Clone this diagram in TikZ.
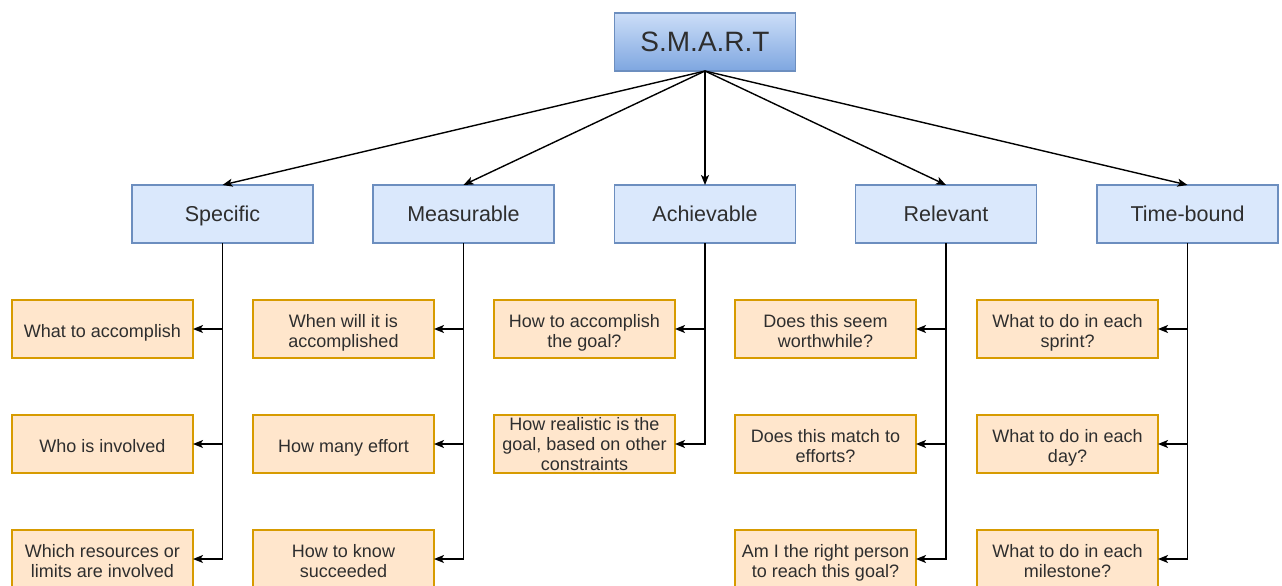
\documentclass[tikz,border=0pt]{standalone}
\usepackage{fontspec}
\setmainfont{Liberation Sans}
\usetikzlibrary{arrows.meta,shadings}
\definecolor{bluefill}{HTML}{DAE8FC}
\definecolor{bluedark}{HTML}{7EA6E0}
\definecolor{blueline}{HTML}{6C8EBF}
\definecolor{orfill}{HTML}{FFE6CC}
\definecolor{orline}{HTML}{D79B00}
\definecolor{txt}{HTML}{2E2E2E}
\newcommand{\qs}{\rule{0pt}{1.12em}}
\newcommand{\qe}{\rule[-0.22em]{0pt}{0.22em}}
\tikzset{
  vstrut/.style={execute at begin node={\rule[-0.22em]{0pt}{#1}}, execute at end node={\rule[-0.22em]{0pt}{#1}}},
  box/.style={draw, line width=1.2pt, minimum width=181pt, minimum height=58pt, inner sep=0pt, outer sep=0pt, align=center, text=txt},
  rootbox/.style={box, draw=blueline, top color=bluefill!85!bluedark, bottom color=bluedark, font=\fontsize{28}{32}\selectfont, vstrut=1.14em},
  catbox/.style={box, draw=blueline, fill=bluefill, font=\fontsize{21.5}{26}\selectfont, vstrut=1.14em},
  qbox/.style={box, draw=orline, fill=orfill, font=\fontsize{18}{19.8}\selectfont},
  conn/.style={line width=1.4pt, draw=black, -{Stealth[length=10pt,width=8pt,inset=2.5pt]}}
}
\begin{document}
\begin{tikzpicture}[x=1pt,y=-1pt]
\useasboundingbox (0,0) rectangle (1282,586);
\node[rootbox] (root) at (705,42) {S.M.A.R.T};
\node[catbox] (spec) at (222.5,214) {Specific};
\node[catbox] (meas) at (463.5,214) {Measurable};
\node[catbox] (achi) at (705,214) {Achievable};
\node[catbox] (rele) at (946,214) {Relevant};
\node[catbox] (time) at (1187.5,214) {Time-bound};
% questions
\node[qbox] (s1) at (102.5,329) {\qs What to accomplish\qe};
\node[qbox] (s2) at (102.5,444) {\qs Who is involved\qe};
\node[qbox] (s3) at (102.5,559) {\qs Which resources or\\limits are involved\qe};
\node[qbox] (m1) at (343.5,329) {\qs When will it is\\accomplished\qe};
\node[qbox] (m2) at (343.5,444) {\qs How many effort\qe};
\node[qbox] (m3) at (343.5,559) {\qs How to know\\succeeded\qe};
\node[qbox] (a1) at (584.5,329) {\qs How to accomplish\\the goal?\qe};
\node[qbox] (a2) at (584.5,444) {How realistic is the\\goal, based on other\\constraints};
\node[qbox] (r1) at (825.5,329) {\qs Does this seem\\worthwhile?\qe};
\node[qbox] (r2) at (825.5,444) {\qs Does this match to\\efforts?\qe};
\node[qbox] (r3) at (825.5,559) {\qs Am I the right person\\to reach this goal?\qe};
\node[qbox] (t1) at (1067.5,329) {\qs What to do in each\\sprint?\qe};
\node[qbox] (t2) at (1067.5,444) {\qs What to do in each\\day?\qe};
\node[qbox] (t3) at (1067.5,559) {\qs What to do in each\\milestone?\qe};
% top connectors
\foreach \c in {spec,meas,achi,rele,time}
  \draw[conn] (root.south) -- (\c.north);
% child connectors
\foreach \p/\k in {spec/s1,spec/s2,spec/s3,meas/m1,meas/m2,meas/m3,achi/a1,achi/a2,rele/r1,rele/r2,rele/r3,time/t1,time/t2,time/t3}
  \draw[conn] (\p.south) |- (\k.east);
\end{tikzpicture}
\end{document}
